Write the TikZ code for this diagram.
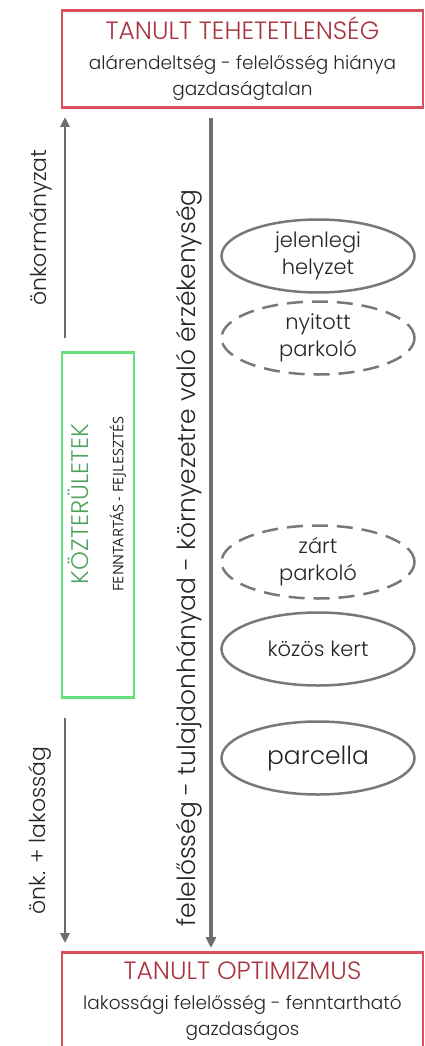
\documentclass[tikz,border=0pt]{standalone}
\usepackage{fontspec}
\IfFontExistsTF{Poppins Light}{\setmainfont{Poppins Light}}{\setmainfont{Poppins}}
\newfontfamily\plainsans{Open Sans}
\usetikzlibrary{positioning,arrows.meta,shapes.geometric}

\definecolor{boxred}{HTML}{D9505C}
\definecolor{titlered}{HTML}{A8343F}
\definecolor{arrowgray}{HTML}{6E6E6E}
\definecolor{ovalgray}{HTML}{787878}
\definecolor{boxgreen}{HTML}{66E07E}
\definecolor{titlegreen}{HTML}{4FA35E}
\definecolor{inkgray}{HTML}{262626}

\tikzset{
    statebox/.style={draw=boxred, line width=2.5pt, minimum width=361pt,
        minimum height=97pt, align=center, inner sep=0pt, text=inkgray,
        font=\fontsize{18.5}{26}\selectfont},
    fieldbox/.style={draw=boxgreen, line width=2.5pt, rotate=90,
        minimum width=345pt, minimum height=72pt, inner sep=0pt},
    fieldtext/.style={rotate=90, align=center, inner sep=0pt, text=inkgray,
        font=\fontsize{15}{35}\selectfont},
    oval/.style={ellipse, draw=ovalgray, line width=2.5pt, minimum width=193pt,
        minimum height=73pt, align=center, inner sep=0pt, text=inkgray,
        font=\fontsize{21}{27}\selectfont},
    openoval/.style={oval, dash pattern=on 16pt off 9pt},
    axis/.style={draw=arrowgray, line width=3.5pt,
        -{Triangle[length=11pt,width=10pt]}},
    sidearrow/.style={draw=arrowgray, line width=2.5pt,
        -{Triangle[length=10pt,width=9pt]}},
    axislabel/.style={rotate=90, anchor=south, inner sep=7pt, text=inkgray,
        font=\fontsize{25}{28}\selectfont},
    sidelabel/.style={axislabel, inner sep=12pt,
        font=\fontsize{22}{25}\selectfont},
}

\begin{document}
\begin{tikzpicture}[x=1pt, y=-1pt]
    \useasboundingbox (0,0) rectangle (425,1046);
    \clip (0,0) rectangle (425,1046);

    % end states
    \node[statebox] (helpless) at (242.5,59)
        {{\color{titlered}\fontsize{25}{29}\selectfont TANULT TEHETETLENSÉG}\\[4pt]
         alárendeltség - felelősség hiánya\\ gazdaságtalan};
    \node[statebox] (optimism) at (242.5,1001)
        {{\color{titlered}\fontsize{25}{29}\selectfont TANULT OPTIMIZMUS}\\[4pt]
         lakossági felelősség - fenntartható\\ gazdaságos};

    % public spaces
    \node[fieldbox] (public) at (98,525) {};
    \node[fieldtext] (publictext) at (97,504)
        {{\color{titlegreen}\fontsize{24}{28}\selectfont KÖZTERÜLETEK}\\
         {\plainsans\fontsize{14.5}{17}\selectfont FENNTARTÁS - FEJLESZTÉS}};

    % left arrows
    \coordinate (up0) at (65,338);
    \coordinate (up1) at (65,117);
    \coordinate (down0) at (65,718);
    \coordinate (down1) at (65,943);
    \draw[sidearrow] (up0) -- node[sidelabel] {önkormányzat} (up1);
    \draw[sidearrow] (down0) -- node[sidelabel] {önk. + lakosság} (down1);

    % main axis
    \coordinate (ctop) at (211,118);
    \coordinate (cbot) at (211,948);
    \draw[axis] (ctop) -- node[axislabel, pos=0.53]
        {felelősség - tulajdonhányad - környezetre való érzékenység} (cbot);

    % options
    \node[oval] (current) at (318,256) {jelenlegi\\ helyzet};
    \node[openoval] (openpark) at (318,338) {nyitott\\ parkoló};
    \node[openoval] (closedpark) at (318,562) {zárt\\ parkoló};
    \node[oval] (garden) at (318,649) {közös kert};
    \node[oval, font=\fontsize{25}{28}\selectfont] (plot) at (318,758) {parcella};
\end{tikzpicture}
\end{document}
